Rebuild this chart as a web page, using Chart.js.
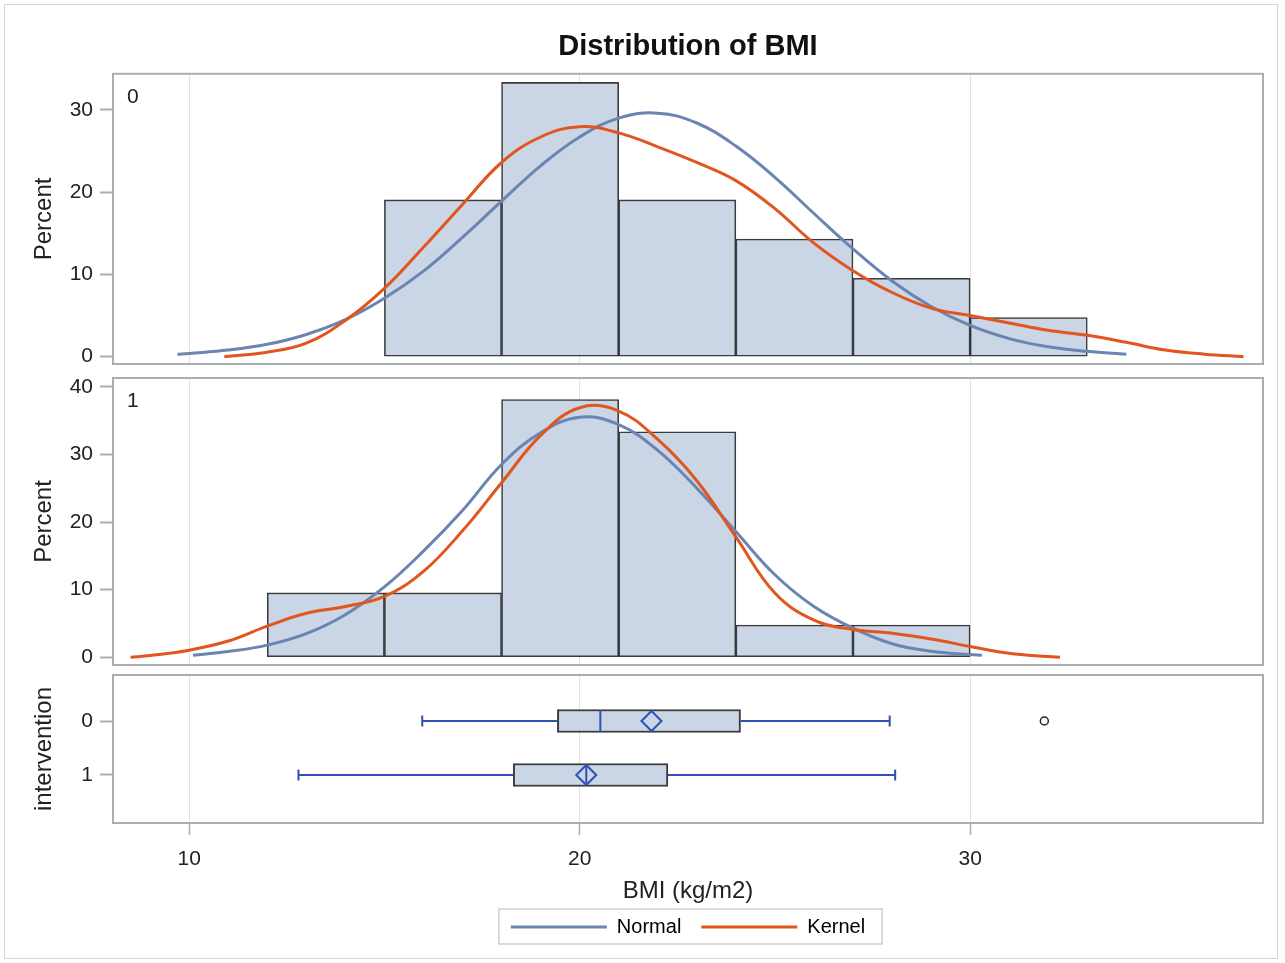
<!DOCTYPE html>
<html>
<head>
<meta charset="utf-8">
<title>Distribution of BMI</title>
<script src="https://cdn.jsdelivr.net/npm/chart.js@4.4.1/dist/chart.umd.min.js"></script>
<style>
  html, body { margin: 0; padding: 0; background: #fff; }
  #figure { position: relative; width: 1285px; height: 963px; overflow: hidden; }
  #figure canvas { position: absolute; left: 0; }
  #outline { position: absolute; left: 4px; top: 4px; width: 1272px; height: 953px; border: 1px solid #d6d6d6; }
</style>
</head>
<body>
<div id="figure">
  <div id="outline"></div>
  <canvas id="panel0" width="1285" height="370" style="top:0"></canvas>
  <canvas id="panel1" width="1285" height="300" style="top:370px"></canvas>
  <canvas id="boxPanel" width="1285" height="293" style="top:670px"></canvas>
</div>
<script>
// ---- histogram bins (percent of group), bin width 3
const binMids0 = [16.5, 19.5, 22.5, 25.5, 28.5, 31.5];
const percent0 = [19.05, 33.33, 19.05, 14.29, 9.52, 4.76];
const binMids1 = [13.5, 16.5, 19.5, 22.5, 25.5, 28.5];
const percent1 = [9.52, 9.52, 38.1, 33.33, 4.76, 4.76];

// ---- fitted curves, group 0
const normal0X = [9.7, 10, 11, 12, 13, 14, 15, 16, 17, 18, 19, 20, 21, 22, 23, 24, 25, 26, 27, 28, 29, 30, 31, 32, 33, 34];
const normal0Y = [0.3, 0.4, 0.8, 1.5, 2.7, 4.5, 7.1, 10.4, 14.5, 18.9, 23.2, 26.7, 29.0, 29.6, 28.4, 25.6, 21.8, 17.4, 13.1, 9.2, 6.1, 3.8, 2.2, 1.2, 0.65, 0.3];
const kernel0X = [10.9, 11, 12, 13, 14, 15, 16, 17, 18, 19, 20, 21, 22, 23, 24, 25, 26, 27, 28, 29, 30, 31, 32, 33, 34, 35, 36, 37];
const kernel0Y = [0, 0.05, 0.55, 1.65, 4.4, 8.3, 13.3, 18.5, 23.6, 26.7, 27.95, 27.2, 25.5, 23.6, 21.4, 18.0, 13.8, 10.45, 7.8, 5.9, 5.0, 4.1, 3.2, 2.6, 1.75, 0.8, 0.3, 0];

// ---- fitted curves, group 1
const normal1X = [10.1, 11, 12, 13, 14, 15, 16, 17, 18, 19, 20, 21, 22, 23, 24, 25, 26, 27, 28, 29, 30, 30.3];
const normal1Y = [0.3, 0.85, 1.8, 3.5, 6.3, 10.4, 15.7, 21.7, 28.5, 33.2, 35.5, 34.4, 30.6, 25.0, 18.6, 12.2, 7.5, 4.3, 2.0, 0.9, 0.4, 0.3];
const kernel1X = [8.5, 9, 10, 11, 12, 13, 14, 15, 16, 17, 18, 19, 20, 21, 22, 23, 24, 25, 26, 27, 28, 29, 30, 31, 32, 32.3];
const kernel1Y = [0, 0.25, 1.05, 2.4, 4.6, 6.5, 7.5, 9.0, 12.7, 18.7, 25.8, 32.8, 36.9, 36.4, 32.2, 26.1, 17.8, 9.5, 5.5, 4.1, 3.55, 2.7, 1.6, 0.6, 0.1, 0];

// ---- box plot summary per intervention group
const groups = [0, 1];
const whiskerLow = [15.97, 12.8];
const quart1 = [19.43, 18.3];
const medians = [20.53, 20.17];
const means = [21.84, 20.17];
const quart3 = [24.12, 22.26];
const whiskerHigh = [27.94, 28.08];
const outlierX = [31.9];
const outlierGroup = [0];

// ---- tick labels
const xTicks = [10, 20, 30];
const yTicks0 = [0, 10, 20, 30];
const yTicks1 = [0, 10, 20, 30, 40];
const groupTicks = [0, 1];

const FONT = '"Liberation Sans", Arial, sans-serif';
const TEXT = '#222';
const BAR_FILL = '#cad5e5';
const BAR_EDGE = 'rgba(38,38,38,0.9)';
const NORMAL_COLOR = '#6a85b2';
const KERNEL_COLOR = '#e2551f';
const BOX_BLUE = '#2e52b4';
const GRID = '#e2e2e2';
const FRAME = '#a9aeb4';
const X_MIN = 8.05, X_MAX = 37.5;

Chart.defaults.font.family = FONT;
Chart.defaults.color = TEXT;
Chart.defaults.animation = false;
Chart.defaults.events = [];
Chart.defaults.plugins.tooltip.enabled = false;

const toPoints = (xs, ys) => xs.map((x, i) => ({ x: x, y: ys[i] }));
const fixTicks = values => scale => { scale.ticks = values.map(v => ({ value: v })); };

// gray border round each panel's plot area
const panelFrame = {
  id: 'panelFrame',
  afterDatasetsDraw(chart) {
    const { ctx, chartArea: a } = chart;
    ctx.save();
    ctx.strokeStyle = FRAME;
    ctx.lineWidth = 2;
    ctx.strokeRect(a.left, a.top, a.right - a.left, a.bottom - a.top);
    ctx.restore();
  }
};

// group name in the top-left corner of a panel
const panelLabel = {
  id: 'panelLabel',
  afterDraw(chart, args, opts) {
    if (!opts.text) return;
    const { ctx, chartArea: a } = chart;
    ctx.save();
    ctx.font = '21px ' + FONT;
    ctx.fillStyle = TEXT;
    ctx.textAlign = 'left';
    ctx.textBaseline = 'middle';
    ctx.fillText(opts.text, a.left + 14, a.top + 23);
    ctx.restore();
  }
};

// thin box around the legend entries
const legendFrame = {
  id: 'legendFrame',
  afterDraw(chart) {
    const boxes = chart.legend && chart.legend.legendHitBoxes;
    if (!boxes || !boxes.length) return;
    const left = Math.min(...boxes.map(b => b.left)) - 12;
    const right = Math.max(...boxes.map(b => b.left + b.width)) + 17;
    const top = Math.min(...boxes.map(b => b.top)) - 8;
    const bottom = Math.max(...boxes.map(b => b.top + b.height)) + 7;
    const ctx = chart.ctx;
    ctx.save();
    ctx.strokeStyle = '#d0d0d0';
    ctx.lineWidth = 1.5;
    ctx.strokeRect(left, top, right - left, bottom - top);
    ctx.restore();
  }
};

function yAxis(min, max, ticks, title, reverse) {
  return {
    type: 'linear', min: min, max: max, reverse: !!reverse, offset: false,
    afterBuildTicks: fixTicks(ticks),
    // fixed axis width and no label overhang, so all panels line up
    afterFit: s => { s.width = 113; s.paddingTop = 0; s.paddingBottom = 0; },
    grid: { drawOnChartArea: false, drawTicks: true, tickLength: 13, tickWidth: 2, tickColor: FRAME, offset: false },
    border: { display: false },
    ticks: { padding: 7, font: { size: 21 }, color: TEXT },
    title: { display: true, text: title, font: { size: 24 }, color: TEXT, padding: { top: 30, bottom: 0 } }
  };
}

function hiddenXAxis() {
  return {
    type: 'linear', min: X_MIN, max: X_MAX, offset: false,
    afterBuildTicks: fixTicks(xTicks),
    afterFit: s => { s.height = 0; s.paddingLeft = 0; s.paddingRight = 0; },
    grid: { color: GRID, lineWidth: 1, drawTicks: false, offset: false },
    border: { display: false },
    ticks: { display: false }
  };
}

function histogram(canvasId, mids, pcts, normX, normY, kernX, kernY, yMin, yMax, yTicks, label, extra) {
  const plugins = Object.assign({
    legend: { display: false },
    panelLabel: { text: label }
  }, extra.plugins || {});
  return new Chart(document.getElementById(canvasId), {
    type: 'scatter',
    data: {
      datasets: [
        { type: 'line', label: 'Kernel', data: toPoints(kernX, kernY), borderColor: KERNEL_COLOR, borderWidth: 3,
          pointRadius: 0, tension: 0.4, fill: false, order: 0 },
        { type: 'line', label: 'Normal', data: toPoints(normX, normY), borderColor: NORMAL_COLOR, borderWidth: 3,
          pointRadius: 0, tension: 0.4, fill: false, order: 1 },
        { type: 'bar', label: 'Percent', data: toPoints(mids, pcts), backgroundColor: BAR_FILL, borderColor: BAR_EDGE,
          borderWidth: 1.6, borderSkipped: false, barPercentage: 1, categoryPercentage: 1, order: 2 }
      ]
    },
    options: {
      responsive: false,
      layout: { padding: extra.padding, autoPadding: false },
      scales: { x: hiddenXAxis(), y: yAxis(yMin, yMax, yTicks, 'Percent') },
      plugins: plugins
    },
    plugins: [panelFrame, panelLabel]
  });
}

histogram('panel0', binMids0, percent0, normal0X, normal0Y, kernel0X, kernel0Y, -0.89, 34.38, yTicks0, '0', {
  padding: { top: 0, right: 22, bottom: 6, left: 0 },
  plugins: {
    title: { display: true, text: 'Distribution of BMI', fullSize: false, font: { size: 29, weight: 'bold' },
             color: '#111', padding: { top: 30, bottom: 9 } }
  }
});

histogram('panel1', binMids1, percent1, normal1X, normal1Y, kernel1X, kernel1Y, -1.14, 41.29, yTicks1, '1', {
  padding: { top: 8, right: 22, bottom: 5, left: 0 }
});

// ---- box plot panel
const pointSet = (xs, ys) => xs.map((x, i) => ({ x: x, y: ys[i] }));
const whiskerSets = [];
groups.forEach((g, i) => {
  whiskerSets.push([{ x: whiskerLow[i], y: g }, { x: quart1[i], y: g }]);
  whiskerSets.push([{ x: quart3[i], y: g }, { x: whiskerHigh[i], y: g }]);
});

new Chart(document.getElementById('boxPanel'), {
  type: 'scatter',
  data: {
    datasets: [
      { label: 'Mean', data: pointSet(means, groups), pointStyle: 'rectRot', pointRadius: 10,
        pointBorderColor: BOX_BLUE, pointBackgroundColor: 'rgba(0,0,0,0)', pointBorderWidth: 2, order: 0 },
      { label: 'Median', data: pointSet(medians, groups), pointStyle: 'line', pointRotation: 90, pointRadius: 11,
        pointBorderColor: BOX_BLUE, pointBorderWidth: 2, order: 0 },
      { label: 'Caps', data: pointSet(whiskerLow.concat(whiskerHigh), groups.concat(groups)), pointStyle: 'line',
        pointRotation: 90, pointRadius: 5.5, pointBorderColor: BOX_BLUE, pointBorderWidth: 2, order: 0 },
      ...whiskerSets.map(seg => ({ label: 'Whisker', data: seg, showLine: true, borderColor: BOX_BLUE,
        borderWidth: 2, pointRadius: 0, order: 1 })),
      { label: 'Outlier', data: pointSet(outlierX, outlierGroup), pointStyle: 'circle', pointRadius: 4,
        pointBorderColor: '#222', pointBackgroundColor: '#fff', pointBorderWidth: 1.5, order: 0 },
      { type: 'bar', indexAxis: 'y', label: 'Box', data: groups.map((g, i) => ({ x: [quart1[i], quart3[i]], y: g })),
        backgroundColor: BAR_FILL, borderColor: BAR_EDGE, borderWidth: 2, borderSkipped: false,
        barThickness: 23, order: 3 }
    ]
  },
  options: {
    responsive: false,
    layout: { padding: { top: 5, right: 22, bottom: 16, left: 0 }, autoPadding: false },
    scales: {
      x: {
        type: 'linear', min: X_MIN, max: X_MAX, offset: false, position: 'bottom',
        afterBuildTicks: fixTicks(xTicks),
        afterFit: s => { s.height = 74; s.paddingLeft = 0; s.paddingRight = 0; },
        grid: { color: GRID, lineWidth: 1, drawTicks: true, tickLength: 12, tickColor: FRAME, tickWidth: 1.5, offset: false },
        border: { display: false },
        ticks: { padding: 12, font: { size: 21 }, color: TEXT, maxRotation: 0 },
        title: { display: true, text: 'BMI (kg/m2)', font: { size: 24 }, color: TEXT, padding: { top: 0, bottom: -9 } }
      },
      y: yAxis(-0.852, 1.889, groupTicks, 'intervention', true)
    },
    plugins: {
      legend: {
        display: true, position: 'bottom', fullSize: false,
        labels: {
          boxWidth: 96, boxHeight: 3, padding: 20, font: { size: 20 }, color: TEXT,
          generateLabels: () => [
            { text: 'Normal', fillStyle: NORMAL_COLOR, strokeStyle: NORMAL_COLOR, lineWidth: 0, hidden: false },
            { text: 'Kernel', fillStyle: KERNEL_COLOR, strokeStyle: KERNEL_COLOR, lineWidth: 0, hidden: false }
          ]
        }
      }
    }
  },
  plugins: [panelFrame, legendFrame]
});
</script>
</body>
</html>
